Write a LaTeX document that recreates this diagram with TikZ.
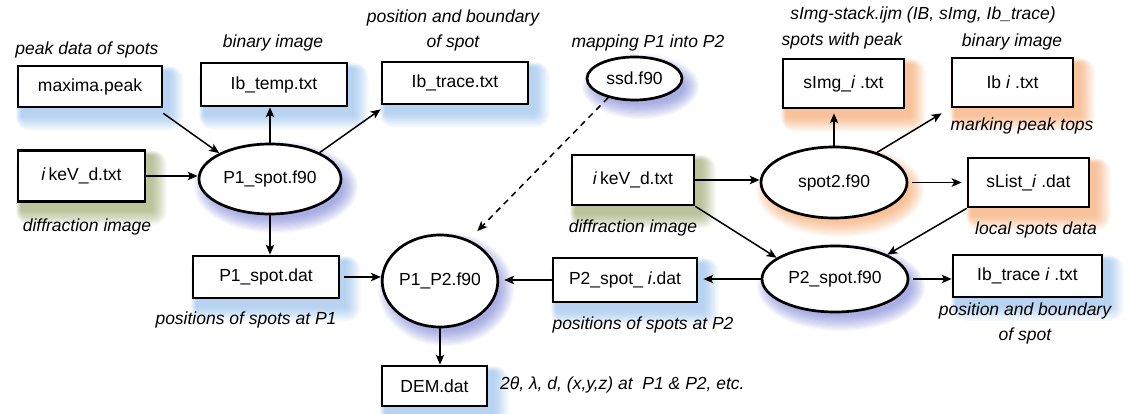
\documentclass[tikz,border=0pt]{standalone}
\usepackage{fontspec}
\setmainfont{Liberation Sans}
\usetikzlibrary{shapes.geometric,arrows.meta,calc,backgrounds}
\definecolor{gblue}{RGB}{100,160,225}
\definecolor{gpurp}{RGB}{70,80,195}
\definecolor{ggreen}{RGB}{105,125,40}
\definecolor{gorange}{RGB}{240,125,40}
\tikzset{
  filebox/.style={draw, line width=2.7pt, fill=white, inner sep=0pt,
    font=\fontsize{17.5}{21}\selectfont},
  prog/.style={ellipse, draw, line width=2.7pt, fill=white, inner sep=0pt,
    font=\fontsize{17.5}{21}\selectfont},
  lbl/.style={font=\fontsize{17.5}{25}\selectfont\itshape, inner sep=0pt, align=center},
  arr/.style={line width=1.5pt, -{Stealth[length=10pt,width=8.5pt,inset=2.5pt]}},
}
\newcommand\rglow[2]{%
  \foreach \k in {1,...,14}{
    \fill[#2, fill opacity=0.045, rounded corners=\k pt]
      ($(#1.north west)+(5-\k*0.4, 7-\k*0.4)$) rectangle ($(#1.south east)+(5+\k*1.1, 7+\k*1.1)$);
  }}
\newcommand\eglow[4]{%
  \foreach \k in {1,...,14}{
    \fill[#2, fill opacity=0.045]
      ($(#1.center)+(6,8)$) ellipse [x radius={#3+\k*1.15-5}, y radius={#4+\k*1.15-5}];
  }}
\begin{document}
\begin{tikzpicture}[x=1pt,y=-1pt]
\useasboundingbox (0,0) rectangle (1126,414);
% file boxes
\node[filebox, minimum width=144pt, minimum height=41pt] (maxima) at (90,86.5) {maxima.peak};
\node[filebox, minimum width=146pt, minimum height=43pt] (ibtemp) at (274,84.5) {Ib\_temp.txt};
\node[filebox, minimum width=146pt, minimum height=42pt] (ibtrace) at (455,83) {Ib\_trace.txt};
\node[filebox, minimum width=121pt, minimum height=49pt] (simg) at (843.5,83.5) {sImg\_\textit{i} .txt};
\node[filebox, minimum width=121pt, minimum height=49pt] (ibi) at (1012.5,82.5) {Ib \textit{i} .txt};
\node[filebox, minimum width=127pt, minimum height=51pt] (kevL) at (81.5,176) {\textit{i}\,keV\_d.txt};
\node[filebox, minimum width=122pt, minimum height=50pt] (kevR) at (633,180) {\textit{i}\,keV\_d.txt};
\node[filebox, minimum width=121pt, minimum height=49pt] (slist) at (1028.5,182.5) {sList\_\textit{i} .dat};
\node[filebox, minimum width=146pt, minimum height=42pt] (p1dat) at (266,277) {P1\_spot.dat};
\node[filebox, minimum width=105pt, minimum height=40pt] (dem) at (434.5,386) {DEM.dat};
\node[filebox, minimum width=144pt, minimum height=44pt] (p2dat) at (625,280) {P2\_spot\_ \textit{i}.dat};
\node[filebox, minimum width=149pt, minimum height=42pt] (ibtracei) at (1027.5,276) {Ib\_trace \textit{i} .txt};
% programs
\node[prog, minimum width=95pt, minimum height=43pt] (ssd) at (634.5,78.5) {ssd.f90};
\node[prog, minimum width=142pt, minimum height=70pt] (p1spot) at (270,179) {P1\_spot.f90};
\node[prog, minimum width=146pt, minimum height=71pt] (spot2) at (834,182.5) {spot2.f90};
\node[prog, minimum width=114pt, minimum height=92pt] (p1p2) at (440,281) {P1\_P2.f90};
\node[prog, minimum width=146pt, minimum height=66pt] (p2spot) at (835,279) {P2\_spot.f90};
% labels
\node[lbl] (l1) at (87,50) {peak data of spots};
\node[lbl] (l2) at (273,43) {binary image};
\node[lbl] (l3) at (453,30.5) {position and boundary\\of spot};
\node[lbl] (l4) at (648,43) {mapping P1 into P2};
\node[lbl] (l5) at (923,15) {sImg-stack.ijm (IB, sImg, Ib\_trace)};
\node[lbl] (l6) at (842,41) {spots with peak};
\node[lbl] (l7) at (1012,42) {binary image};
\node[lbl] (l8) at (1022,126) {marking peak tops};
\node[lbl] (l9) at (87,227) {diffraction image};
\node[lbl] (l10) at (633,228) {diffraction image};
\node[lbl] (l11) at (1036,230) {local spots data};
\node[lbl] (l12) at (246,320) {positions of spots at P1};
\node[lbl] (l13) at (643,325) {positions of spots at P2};
\node[lbl] (l14) at (1025,323.5) {position and boundary\\of spot};
\node[lbl, anchor=west] (l15) at (500,385) {2θ, λ, d, (x,y,z) at\ \ P1 \& P2, etc.};
% connectors
\draw[arr] ([shift={(0,5)}]maxima.south east) -- (p1spot.153);
\draw[arr] (p1spot.north) -- (p1spot.north |- ibtemp.south);
\draw[arr] (p1spot.28) -- ([shift={(0,4)}]ibtrace.south west);
\draw[arr] (kevL.east) -- (kevL.east -| p1spot.west);
\draw[arr] (p1spot.south) -- (p1spot.south |- p1dat.north);
\draw[arr, shorten <=4pt] (p1dat.east) -- (p1dat.east -| p1p2.west);
\draw[arr, shorten >=5pt] (p2dat.west) -- (p2dat.west -| p1p2.east);
\draw[arr, dashed, dash pattern=on 6pt off 5pt, shorten >=12pt] (ssd.216) -- (p1p2.55);
\draw[arr] (p1p2.south) -- (p1p2.south |- dem.north);
\draw[arr] (kevR.east) -- (kevR.east -| spot2.west);
\draw[arr] (kevR.south east) -- (p2spot.160);
\draw[arr, shorten >=4pt] (spot2.north) -- (spot2.north |- simg.south);
\draw[arr] (spot2.35) -- ([shift={(-9,5)}]ibi.south west);
\draw[arr, shorten <=4pt, shorten >=5pt] (spot2.east) -- (spot2.east -| slist.west);
\draw[arr] (slist.south west) -- (p2spot.25);
\draw[arr, shorten >=5pt] (p2spot.west) -- (p2spot.west -| p2dat.east);
\draw[arr, shorten <=4pt] (p2spot.east) -- (p2spot.east -| ibtracei.west);
% glows
\begin{scope}[on background layer]
  \rglow{maxima}{gblue}
  \rglow{ibtemp}{gblue}
  \rglow{ibtrace}{gblue}
  \rglow{p1dat}{gblue}
  \rglow{dem}{gblue}
  \rglow{p2dat}{gblue}
  \rglow{ibtracei}{gblue}
  \rglow{kevL}{ggreen}
  \rglow{kevR}{ggreen}
  \rglow{simg}{gorange}
  \rglow{ibi}{gorange}
  \rglow{slist}{gorange}
  \eglow{spot2}{gorange}{73}{35.5}
  \eglow{ssd}{gpurp}{47.5}{21.5}
  \eglow{p1spot}{gpurp}{71}{35}
  \eglow{p1p2}{gpurp}{57}{46}
  \eglow{p2spot}{gpurp}{73}{33}
\end{scope}
\end{tikzpicture}
\end{document}
